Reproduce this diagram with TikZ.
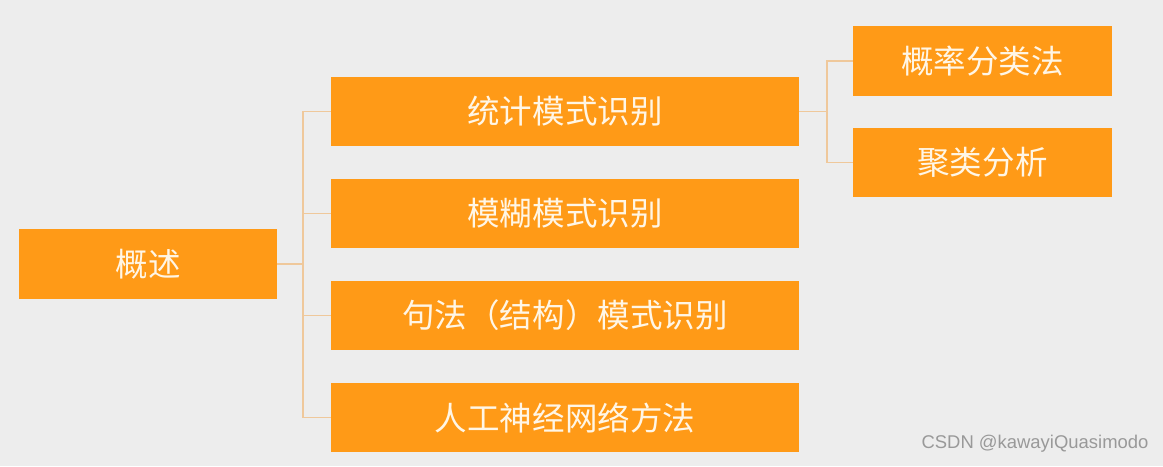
\documentclass[tikz,border=0pt]{standalone}
\usepackage{fontspec}
\newfontfamily\cjk{Noto Sans CJK SC}
\setmainfont{Liberation Sans}
\definecolor{boxorange}{HTML}{FF9A17}
\definecolor{linktan}{HTML}{EFC89B}
\definecolor{boxtext}{HTML}{FFF6E6}
\definecolor{bggray}{HTML}{EDEDED}
\tikzset{
    topicbox/.style={fill=boxorange, draw=none, minimum height=1.39cm,
        inner sep=0pt, text=boxtext, font=\cjk\fontsize{18.5}{22}\selectfont},
    link/.style={linktan, line width=0.9pt}
}
\begin{document}
\begin{tikzpicture}
    \fill[bggray] (0,0) rectangle (23.26,-9.32);
    \useasboundingbox (0,0) rectangle (23.26,-9.32);

    % root
    \node[topicbox, minimum width=5.16cm] (overview) at (2.96,-5.28) {概述};

    % methods
    \node[topicbox, minimum width=9.36cm] (stat)   at (11.30,-2.23) {统计模式识别};
    \node[topicbox, minimum width=9.36cm] (fuzzy)  at (11.30,-4.27) {模糊模式识别};
    \node[topicbox, minimum width=9.36cm] (syntax) at (11.30,-6.31) {句法（结构）模式识别};
    \node[topicbox, minimum width=9.36cm] (neural) at (11.30,-8.35) {人工神经网络方法};

    % sub methods of the statistical approach
    \node[topicbox, minimum width=5.18cm] (prob)    at (19.65,-1.22) {概率分类法};
    \node[topicbox, minimum width=5.18cm] (cluster) at (19.65,-3.25) {聚类分析};

    \coordinate (rootfork) at (6.06,-5.28);
    \coordinate (statfork) at (16.54,-2.23);

    \draw[link] (overview.east) -- (rootfork);
    \foreach \kid in {stat, fuzzy, syntax, neural}
        \draw[link] (rootfork) |- (\kid.west);

    \draw[link] (stat.east) -- (statfork);
    \foreach \kid in {prob, cluster}
        \draw[link] (statfork) |- (\kid.west);

    \node[text=gray!80, font=\fontsize{10.5}{12}\selectfont] (mark) at (20.70,-8.88) {CSDN @kawayiQuasimodo};
\end{tikzpicture}
\end{document}
